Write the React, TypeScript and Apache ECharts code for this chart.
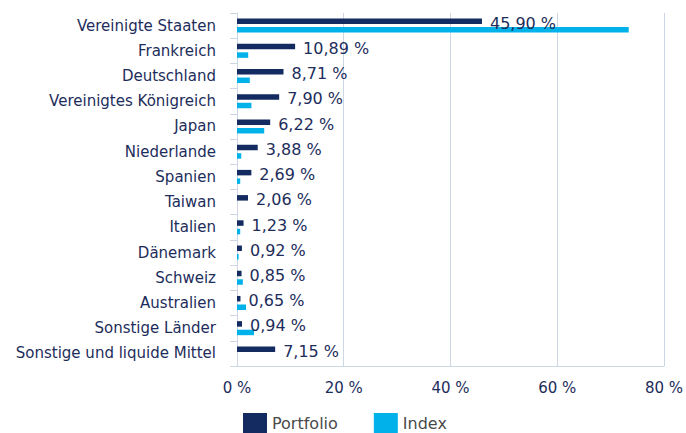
import React, { useEffect, useRef } from "react";
import * as echarts from "echarts";

const categories = [
  "Vereinigte Staaten",
  "Frankreich",
  "Deutschland",
  "Vereinigtes Königreich",
  "Japan",
  "Niederlande",
  "Spanien",
  "Taiwan",
  "Italien",
  "Dänemark",
  "Schweiz",
  "Australien",
  "Sonstige Länder",
  "Sonstige und liquide Mittel",
];
const portfolio = [45.9, 10.89, 8.71, 7.9, 6.22, 3.88, 2.69, 2.06, 1.23, 0.92, 0.85, 0.65, 0.94, 7.15];
const indexValues = [73.4, 2.1, 2.4, 2.7, 5.1, 0.8, 0.6, 0, 0.6, 0.3, 1.1, 1.7, 3.2, 0];
const xTicks = { min: 0, max: 80, interval: 20 };

const TEXT = "#1d2d5b";
const FONT = "DejaVu Sans";

export default function App() {
  const ref = useRef<HTMLDivElement>(null);
  useEffect(() => {
    const chart = echarts.init(ref.current!, null, { renderer: "svg" });
    chart.setOption({
      animation: false,
      textStyle: { fontFamily: FONT },
      grid: { left: 237, right: 17, top: 13, bottom: 67, containLabel: false },
      legend: {
        top: 413,
        left: 243,
        padding: 0,
        itemWidth: 24,
        itemHeight: 20,
        itemGap: 36,
        icon: "rect",
        textStyle: { color: "#4a4a4a", fontSize: 16, fontFamily: FONT },
        data: ["Portfolio", "Index"],
      },
      xAxis: {
        type: "value",
        min: xTicks.min,
        max: xTicks.max,
        interval: xTicks.interval,
        axisLabel: {
          formatter: "{value} %",
          color: TEXT,
          fontSize: 15,
          fontFamily: FONT,
          margin: 14,
        },
        axisLine: { show: true, lineStyle: { color: "#cdd6e4" } },
        axisTick: { show: false },
        splitLine: { show: true, lineStyle: { color: "#cdd6e4", width: 1 } },
      },
      yAxis: {
        type: "category",
        inverse: true,
        data: categories,
        axisLabel: { color: TEXT, fontSize: 15, fontFamily: FONT, margin: 21 },
        axisLine: { show: true, lineStyle: { color: "#cdd6e4" } },
        axisTick: { show: true, length: 7, lineStyle: { color: "#cdd6e4" } },
        splitLine: { show: false },
      },
      series: [
        {
          name: "Portfolio",
          type: "bar",
          data: portfolio,
          barWidth: 5.5,
          barGap: "55%",
          itemStyle: { color: "#132b61" },
          label: {
            show: true,
            position: "right",
            distance: 8,
            offset: [0, 2],
            color: TEXT,
            fontSize: 16,
            fontFamily: FONT,
            formatter: (p: any) => p.value.toFixed(2).replace(".", ",") + " %",
          },
        },
        {
          name: "Index",
          type: "bar",
          data: indexValues,
          barWidth: 5.5,
          itemStyle: { color: "#00b2e9" },
        },
      ],
    });
    return () => chart.dispose();
  }, []);
  return <div ref={ref} style={{ width: 686, height: 433, position: "absolute", left: 0, top: 0 }} />;
}
